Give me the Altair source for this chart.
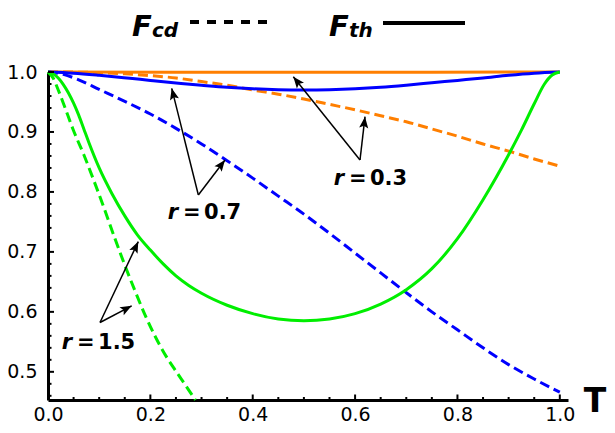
import math
import altair as alt
import pandas as pd

# ---------------- data ----------------
# r = 0.3
T_th_03 = [0.0, 0.25, 0.5, 0.75, 1.0]
F_th_03 = [1.0, 0.9996, 0.9994, 0.9996, 1.0]
T_cd_03 = [0.0, 0.05, 0.1, 0.15, 0.2, 0.25, 0.3, 0.35, 0.4, 0.45, 0.5, 0.55,
           0.6, 0.65, 0.7, 0.75, 0.8, 0.85, 0.9, 0.95, 1.0]
F_cd_03 = [1.0, 0.9998, 0.999, 0.997, 0.994, 0.990, 0.984, 0.978, 0.970, 0.963,
           0.955, 0.946, 0.937, 0.927, 0.917, 0.905, 0.893, 0.880, 0.868, 0.855, 0.843]
# r = 0.7
T_th_07 = [0.0, 0.05, 0.1, 0.16, 0.2, 0.26, 0.3, 0.35, 0.4, 0.45, 0.5, 0.55,
           0.6, 0.65, 0.7, 0.75, 0.8, 0.85, 0.9, 0.95, 1.0]
F_th_07 = [1.0, 0.998, 0.9945, 0.9895, 0.986, 0.981, 0.978, 0.9745, 0.972, 0.9705,
           0.970, 0.9705, 0.972, 0.9745, 0.978, 0.982, 0.986, 0.990, 0.9945, 0.998, 1.0]
T_cd_07 = [0.0, 0.03, 0.06, 0.1, 0.15, 0.2, 0.25, 0.3, 0.35, 0.4, 0.45, 0.5,
           0.55, 0.6, 0.65, 0.7, 0.75, 0.8, 0.85, 0.9, 0.95, 1.0]
F_cd_07 = [1.0, 0.996, 0.987, 0.971, 0.951, 0.930, 0.906, 0.880, 0.852, 0.823,
           0.793, 0.763, 0.731, 0.698, 0.665, 0.632, 0.600, 0.570, 0.540, 0.512,
           0.488, 0.466]
# r = 1.5
T_th_15 = [0.0, 0.01, 0.02, 0.03, 0.04, 0.05, 0.06, 0.07, 0.08, 0.1, 0.125,
           0.15, 0.175, 0.2, 0.225, 0.25, 0.275, 0.3, 0.35, 0.4, 0.45, 0.5,
           0.55, 0.6, 0.65, 0.7, 0.75, 0.8, 0.85, 0.9, 0.925, 0.95, 0.97, 0.985, 1.0]
F_th_15 = [1.0, 0.997, 0.99, 0.979, 0.965, 0.948, 0.928, 0.905, 0.882, 0.840,
           0.797, 0.760, 0.728, 0.703, 0.680, 0.660, 0.644, 0.631, 0.611, 0.597,
           0.588, 0.585, 0.588, 0.597, 0.613, 0.637, 0.672, 0.722, 0.787, 0.862,
           0.903, 0.947, 0.980, 0.995, 1.0]
T_cd_15 = [0.0, 0.01, 0.02, 0.03, 0.05, 0.07, 0.09, 0.11, 0.13, 0.15, 0.17,
           0.19, 0.21, 0.23, 0.25, 0.27, 0.288]
F_cd_15 = [1.0, 0.99, 0.97, 0.948, 0.902, 0.862, 0.818, 0.772, 0.724, 0.678,
           0.635, 0.594, 0.558, 0.527, 0.501, 0.476, 0.453]

# annotations (arrow tail -> tip, data coordinates)
arrow_T0 = [0.6096, 0.6096, 0.2937, 0.2937, 0.1016, 0.1016]
arrow_F0 = [0.8533, 0.8533, 0.7950, 0.7950, 0.5822, 0.5822]
arrow_T1 = [0.4793, 0.6194, 0.2417, 0.3458, 0.1764, 0.1635]
arrow_F1 = [0.9922, 0.9255, 0.9728, 0.8533, 0.7172, 0.6100]

label_T = [0.5881, 0.2638, 0.0567]
label_F = [0.8116, 0.7548, 0.5381]
label_val = ["0.3", "0.7", "1.5"]

# axes ticks
x_major = [0.0, 0.2, 0.4, 0.6, 0.8, 1.0]
x_minor = [0.05, 0.1, 0.15, 0.25, 0.3, 0.35, 0.45, 0.5, 0.55, 0.65, 0.7, 0.75,
           0.85, 0.9, 0.95]
y_major = [0.5, 0.6, 0.7, 0.8, 0.9, 1.0]
y_minor = [0.46, 0.48, 0.52, 0.54, 0.56, 0.58, 0.62, 0.64, 0.66, 0.68, 0.72,
           0.74, 0.76, 0.78, 0.82, 0.84, 0.86, 0.88, 0.92, 0.94, 0.96, 0.98]

# ---------------- layout / style ----------------
W, H = 520, 328
X_DOM = [0.0, 1.016]
Y_DOM = [0.453, 1.0]
FONT = "DejaVu Sans"
ORANGE, BLUE, GREEN = "#ff7f00", "#0000ff", "#00ee00"
DASH = [10, 5]

xs = alt.Scale(domain=X_DOM, nice=False, zero=False)
ys = alt.Scale(domain=Y_DOM, nice=False, zero=False)

ax_x_lab = alt.Axis(values=x_major, format=".1f", labelFont=FONT, labelFontSize=19,
                    labelColor="black", labelPadding=5, ticks=False, domain=True,
                    domainColor="black", domainWidth=3, grid=False, title=None,
                    labelFlush=False, labelOverlap=False)
ax_y_lab = alt.Axis(values=y_major, format=".1f", labelFont=FONT, labelFontSize=19,
                    labelColor="black", labelPadding=11, ticks=False, domain=True,
                    domainColor="black", domainWidth=3, grid=False, title=None,
                    labelOverlap=False)


def line(T, F, color, dashed, xaxis=None, yaxis=None):
    df = pd.DataFrame({"T": T, "F": F})
    kw = dict(color=color, strokeWidth=3, interpolate="monotone", strokeCap="butt")
    if dashed:
        kw["strokeDash"] = DASH
    return alt.Chart(df).mark_line(**kw).encode(
        x=alt.X("T:Q", scale=xs, axis=xaxis),
        y=alt.Y("F:Q", scale=ys, axis=yaxis),
    )


layers = [
    line(T_th_03, F_th_03, ORANGE, False, ax_x_lab, ax_y_lab),
    line(T_cd_03, F_cd_03, ORANGE, True),
    line(T_th_07, F_th_07, BLUE, False),
    line(T_cd_07, F_cd_07, BLUE, True),
    line(T_th_15, F_th_15, GREEN, False),
    line(T_cd_15, F_cd_15, GREEN, True),
]


# inward axis ticks
def xticks(vals, size):
    return alt.Chart(pd.DataFrame({"v": vals})).mark_rule(
        color="black", strokeWidth=2).encode(
        x=alt.X("v:Q", scale=xs, axis=None), y=alt.value(H), y2=alt.value(H - size))


def yticks(vals, size):
    return alt.Chart(pd.DataFrame({"v": vals})).mark_rule(
        color="black", strokeWidth=2).encode(
        y=alt.Y("v:Q", scale=ys, axis=None), x=alt.value(0), x2=alt.value(size))


layers += [xticks(x_major, 5.5), xticks(x_minor, 3), yticks(y_major, 6),
           yticks(y_minor, 3.5)]

# arrows
px_x = W / (X_DOM[1] - X_DOM[0])
px_y = H / (Y_DOM[1] - Y_DOM[0])
angles = []
for t0, f0, t1, f1 in zip(arrow_T0, arrow_F0, arrow_T1, arrow_F1):
    dx = (t1 - t0) * px_x
    dy = -(f1 - f0) * px_y
    angles.append(math.degrees(math.atan2(dx, -dy)) % 360)
arr_df = pd.DataFrame({"T0": arrow_T0, "F0": arrow_F0, "T1": arrow_T1,
                       "F1": arrow_F1, "ang": angles})
layers.append(alt.Chart(arr_df).mark_rule(color="black", strokeWidth=1.5).encode(
    x=alt.X("T0:Q", scale=xs, axis=None), y=alt.Y("F0:Q", scale=ys, axis=None),
    x2="T1:Q", y2="F1:Q"))
layers.append(alt.Chart(arr_df).mark_point(
    shape="M0,0L-0.8,2L0,1.6L0.8,2Z", filled=True, color="black", opacity=1,
    size=130, strokeWidth=0).encode(
    x=alt.X("T1:Q", scale=xs, axis=None), y=alt.Y("F1:Q", scale=ys, axis=None),
    angle=alt.Angle("ang:Q", scale=None)))

# "r = value" labels
lab_df = pd.DataFrame({"T": label_T, "F": label_F, "val": label_val})
lab_common = dict(font=FONT, fontSize=21, fontWeight="bold", baseline="alphabetic",
                  color="black")
lab_enc = dict(x=alt.X("T:Q", scale=xs, axis=None), y=alt.Y("F:Q", scale=ys, axis=None))
layers.append(alt.Chart(lab_df).mark_text(
    align="right", fontStyle="italic", dx=-5, text="r", **lab_common).encode(**lab_enc))
layers.append(alt.Chart(lab_df).mark_text(
    align="left", dx=0, text="=", **lab_common).encode(**lab_enc))
layers.append(alt.Chart(lab_df).mark_text(
    align="left", dx=21, **lab_common).encode(text="val:N", **lab_enc))

# top legend and axis title (pixel placement)
one = pd.DataFrame({"a": [0]})


def txt(s, x, y, size, italic=True, align="left"):
    kw = dict(text=s, font=FONT, fontSize=size, fontWeight="bold", align=align,
              baseline="alphabetic", color="black")
    if italic:
        kw["fontStyle"] = "italic"
    return alt.Chart(one).mark_text(**kw).encode(x=alt.value(x), y=alt.value(y))


layers += [
    txt("F", 84, -36.5, 29),
    txt("cd", 104, -35, 20),
    alt.Chart(one).mark_rule(color="black", strokeWidth=4, strokeDash=[9, 8]).encode(
        x=alt.value(142), x2=alt.value(219), y=alt.value(-50)),
    txt("F", 281, -36.5, 29),
    txt("th", 301, -35, 20),
    alt.Chart(one).mark_rule(color="black", strokeWidth=4).encode(
        x=alt.value(335), x2=alt.value(417), y=alt.value(-49)),
    txt("T", 547, 340, 33, italic=False, align="center"),
]

chart = alt.layer(*layers).properties(
    width=W, height=H,
    padding={"left": 40, "top": 64, "right": 39, "bottom": 25},
    autosize=alt.AutoSizeParams(type="none"),
).resolve_axis(x="independent", y="independent").configure_view(stroke=None)

chart.save("out.html", embed_options={"renderer": "svg", "actions": False})
